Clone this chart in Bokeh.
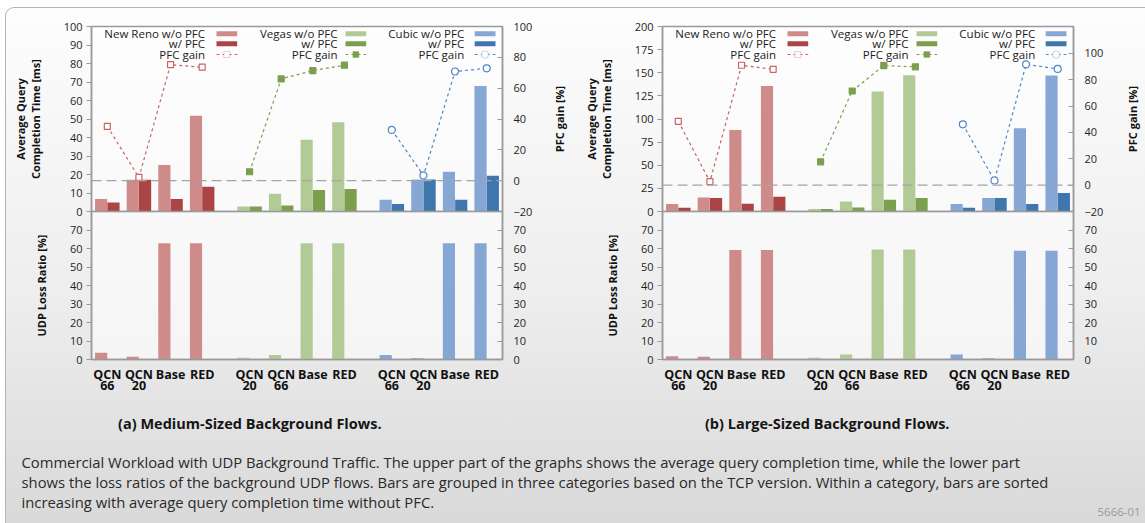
from bokeh.plotting import figure
from bokeh.models import (FactorRange, Range1d, LinearAxis, FixedTicker, Label,
                          BoxAnnotation, Arrow, Span, ColumnDataSource)
from bokeh.transform import dodge, factor_cmap
from bokeh.layouts import column, row
from bokeh.embed import file_html
from bokeh.resources import INLINE

FONT = "Open Sans"

# ---------------- data ----------------
groups = ["New Reno", "Vegas", "Cubic"]
configs = {
    "New Reno": ["QCN\n66", "QCN\n20", "Base", "RED"],
    "Vegas":    ["QCN\n20", "QCN\n66", "Base", "RED"],
    "Cubic":    ["QCN\n66", "QCN\n20", "Base", "RED"],
}

# (a) Medium-sized background flows
qct_wo_a = {"New Reno": [6.7, 17.2, 25.1, 51.8], "Vegas": [2.7, 9.6, 38.8, 48.2], "Cubic": [6.3, 17.3, 21.5, 67.9]}
qct_w_a  = {"New Reno": [4.9, 17.2, 6.7, 13.4],  "Vegas": [2.7, 3.3, 11.6, 12.1], "Cubic": [4.0, 17.3, 6.3, 19.3]}
gain_a   = {"New Reno": [35.2, 2.1, 75.3, 73.6], "Vegas": [5.8, 66.0, 71.4, 74.9], "Cubic": [32.9, 3.4, 70.8, 72.9]}
loss_a   = {"New Reno": [3.6, 1.5, 62.8, 62.8],  "Vegas": [0.9, 2.5, 62.8, 62.8],  "Cubic": [2.5, 0.7, 62.8, 62.8]}

# (b) Large-sized background flows
qct_wo_b = {"New Reno": [8.0, 15.2, 88.1, 135.8], "Vegas": [2.6, 10.8, 129.6, 147.3], "Cubic": [8.0, 14.5, 89.9, 146.9]}
qct_w_b  = {"New Reno": [4.0, 14.5, 8.3, 15.9],   "Vegas": [2.6, 4.3, 12.7, 14.5],    "Cubic": [4.0, 14.5, 8.0, 19.9]}
gain_b   = {"New Reno": [48.4, 2.6, 90.9, 87.8],  "Vegas": [17.7, 71.4, 90.7, 89.7],  "Cubic": [46.1, 3.5, 91.6, 88.1]}
loss_b   = {"New Reno": [1.8, 1.5, 59.2, 59.2],   "Vegas": [0.9, 2.7, 59.5, 59.5],    "Cubic": [2.7, 0.7, 58.8, 58.8]}

qct_ticks_a = list(range(0, 101, 10))
qct_ticks_b = list(range(0, 201, 25))
gain_ticks = [-20, 0, 20, 40, 60, 80, 100]
loss_ticks = list(range(0, 71, 10))

gain_title = "PFC gain [%]"
captions = ["(a) Medium-Sized Background Flows.", "(b) Large-Sized Background Flows."]
paragraph = [
    "Commercial Workload with UDP Background Traffic. The upper part of the graphs shows the average query completion time, while the lower part",
    "shows the loss ratios of the background UDP flows. Bars are grouped in three categories based on the TCP version. Within a category, bars are sorted",
    "increasing with average query completion time without PFC.",
]

# ---------------- styles ----------------
light = ["#cf8a8a", "#b2cb96", "#86a6d4"]
dark = ["#ab4545", "#7b9f4d", "#3f76ae"]
gain_col = ["#c96262", "#7b9f4d", "#4f86c6"]
gain_marker = ["square", "square", "circle"]
gain_fill = ["white", "#7b9f4d", "white"]
AX = "#9a9a9a"
FW, FH_TOP, FH_BOT = 411, 185, 148
RB = 36


def style_axis(ax, side):
    ax.axis_line_color = AX
    ax.axis_line_width = 1.5
    ax.major_tick_line_color = AX
    ax.major_tick_line_width = 1.2
    ax.minor_tick_line_color = None
    ax.major_label_text_font = FONT
    ax.major_label_text_font_size = "11px"
    ax.major_label_text_color = "#1e1e1e"
    ax.axis_label_text_font = FONT
    ax.axis_label_text_font_style = "bold"
    ax.axis_label_text_font_size = "11px"
    ax.axis_label_text_color = "#111111"
    ax.axis_label_text_line_height = 1.0
    if side == "left":
        ax.major_tick_out = 5
        ax.major_tick_in = 0
        ax.major_label_standoff = 4
        ax.axis_label_standoff = 18
    else:
        ax.major_tick_out = 0
        ax.major_tick_in = 5
        ax.major_label_standoff = 11


def label_only_axis(text, standoff):
    # an axis that carries only its title (for the neighbouring plot's right-hand axis)
    ax = LinearAxis(ticker=FixedTicker(ticks=[]), axis_label=text)
    style_axis(ax, "left")
    ax.axis_line_color = None
    ax.major_tick_line_color = None
    ax.major_tick_out = 0
    ax.major_label_standoff = 0
    ax.axis_label_standoff = standoff
    return ax


def base_fig(xr, yr, fh, lb, rb, top_b, bot_b, x_axis, **kw):
    p = figure(x_range=xr, y_range=yr, frame_width=FW, frame_height=fh,
               min_border_left=lb, min_border_right=rb,
               min_border_top=top_b, min_border_bottom=bot_b,
               x_axis_location=("below" if x_axis else None),
               toolbar_location=None, output_backend="svg",
               background_fill_color="white", background_fill_alpha=0.55,
               border_fill_alpha=0, outline_line_color=AX, outline_line_width=1.5, **kw)
    p.xgrid.visible = False
    p.ygrid.visible = False
    return p


def make_panel(wo, w, gain, loss, qct_range, qct_ticks, gain_range, lb, prev_gain_label):
    factors = [(g, c) for g in groups for c in configs[g]]
    xr = FactorRange(factors=factors, group_padding=0.5, factor_padding=0.0)
    src = ColumnDataSource(dict(
        x=factors,
        wo=[v for g in groups for v in wo[g]],
        w=[v for g in groups for v in w[g]],
        loss=[v for g in groups for v in loss[g]],
    ))

    # ---- upper: query completion time + PFC gain ----
    top = base_fig(xr, Range1d(*qct_range), FH_TOP, lb, RB, 18, 10, False)
    top.vbar(x=dodge("x", -0.195, range=xr), top="wo", width=0.385, source=src,
             fill_color=factor_cmap("x", light, groups, end=1), line_color=None)
    top.vbar(x=dodge("x", 0.195, range=xr), top="w", width=0.385, source=src,
             fill_color=factor_cmap("x", dark, groups, end=1), line_color=None)
    top.yaxis.ticker = FixedTicker(ticks=qct_ticks)
    top.yaxis.axis_label = "Average Query\nCompletion Time [ms]"
    style_axis(top.yaxis[0], "left")
    if prev_gain_label:
        top.add_layout(label_only_axis(gain_title, 14), "left")

    top.extra_y_ranges = {"gain": Range1d(*gain_range)}
    rax = LinearAxis(y_range_name="gain", ticker=FixedTicker(ticks=gain_ticks))
    style_axis(rax, "right")
    top.add_layout(rax, "right")
    top.add_layout(Span(location=0, dimension="width", y_range_name="gain",
                        line_color="#a5a5a5", line_dash="10 5", line_width=1.2))

    for i, g in enumerate(groups):
        gs = ColumnDataSource(dict(x=[(g, c) for c in configs[g]], gain=gain[g]))
        top.line("x", "gain", source=gs, y_range_name="gain", line_color=gain_col[i],
                 line_dash="3 3", line_width=1.2)
        top.scatter("x", "gain", source=gs, y_range_name="gain", marker=gain_marker[i],
                    size=(6 if gain_marker[i] == "square" else 7), line_color=gain_col[i],
                    fill_color=gain_fill[i], line_width=1.2)

    # legends (text then sample, three per panel)
    leg_pos = [(113.5, 125.0, 145.7), (246.0, 254.0, 274.7), (372.7, 383.2, 404.0)]
    rows_y = [177.7, 167.7, 157.0]
    for i, g in enumerate(groups):
        tx, s0, s1 = leg_pos[i]
        for t, yy in zip([g + " w/o PFC", "w/ PFC", "PFC gain"], rows_y):
            top.add_layout(Label(x=tx, y=yy, x_units="screen", y_units="screen", text=t,
                                 text_align="right", text_baseline="middle", text_font=FONT,
                                 text_font_size="11.5px", text_color="#222222"))
        for col, yy in ((light[i], rows_y[0]), (dark[i], rows_y[1])):
            top.add_layout(BoxAnnotation(left=s0, right=s1, bottom=yy - 2.5, top=yy + 2.5,
                                         left_units="screen", right_units="screen",
                                         top_units="screen", bottom_units="screen",
                                         fill_color=col, fill_alpha=1, line_color=None))
        top.add_layout(Arrow(x_start=s0, y_start=rows_y[2], x_end=s1, y_end=rows_y[2],
                             start_units="screen", end_units="screen", end=None,
                             line_color=gain_col[i], line_dash="3 3", line_width=1.2))
        mid = (s0 + s1) / 2
        r = 3 if gain_marker[i] == "square" else 3.5
        top.add_layout(BoxAnnotation(left=mid - r, right=mid + r, bottom=rows_y[2] - r, top=rows_y[2] + r,
                                     left_units="screen", right_units="screen",
                                     top_units="screen", bottom_units="screen",
                                     fill_color=gain_fill[i], fill_alpha=1, line_color=gain_col[i],
                                     line_width=1.2, border_radius=(4 if gain_marker[i] == "circle" else 0)))

    # ---- lower: UDP loss ratio ----
    bot = base_fig(xr, Range1d(0, 80), FH_BOT, lb, RB, 10, 52, True, margin=(-20, 0, 0, 0))
    bot.vbar(x=dodge("x", -0.195, range=xr), top="loss", width=0.385, source=src,
             fill_color=factor_cmap("x", light, groups, end=1), line_color=None)
    bot.yaxis.ticker = FixedTicker(ticks=loss_ticks)
    bot.yaxis.axis_label = "UDP Loss Ratio [%]"
    style_axis(bot.yaxis[0], "left")
    rax2 = LinearAxis(ticker=FixedTicker(ticks=loss_ticks))
    style_axis(rax2, "right")
    bot.add_layout(rax2, "right")
    xa = bot.xaxis[0]
    xa.axis_line_color = AX
    xa.axis_line_width = 1.5
    xa.major_tick_line_color = None
    xa.minor_tick_line_color = None
    xa.separator_line_color = None
    xa.major_label_text_font = FONT
    xa.major_label_text_font_style = "bold"
    xa.major_label_text_font_size = "12.5px"
    xa.major_label_text_color = "#111111"
    xa.major_label_text_line_height = 0.66
    xa.major_label_standoff = 0
    xa.group_text_font_size = "0px"
    xa.group_text_color = None
    return column(top, bot, spacing=0)


panel_a = make_panel(qct_wo_a, qct_w_a, gain_a, loss_a, (0, 100), qct_ticks_a, (-20, 100), 85, False)
panel_b = make_panel(qct_wo_b, qct_w_b, gain_b, loss_b, (0, 200), qct_ticks_b, (-20, 120.3), 124, True)

# strip at the right edge that carries the title of panel (b)'s right-hand axis
edge = figure(x_range=Range1d(0, 1), y_range=Range1d(0, 1), frame_width=1, frame_height=FH_TOP,
              min_border_left=35, min_border_right=0, min_border_top=18, min_border_bottom=10,
              x_axis_location=None, y_axis_location=None, toolbar_location=None,
              output_backend="svg", background_fill_alpha=0, border_fill_alpha=0,
              outline_line_color=None)
edge.grid.visible = False
edge.add_layout(label_only_axis(gain_title, 5), "left")

# ---------------- caption area ----------------
TW, TH = 1139, 112
txt = figure(width=TW, height=TH, x_range=Range1d(0, TW), y_range=Range1d(0, TH),
             min_border=0, x_axis_type=None, y_axis_type=None, toolbar_location=None,
             output_backend="svg", outline_line_color=None,
             background_fill_alpha=0, border_fill_alpha=0)
txt.grid.visible = False
for cx, cap in zip([243.3, 820.7], captions):
    txt.add_layout(Label(x=cx, y=99.7, x_units="screen", y_units="screen", text=cap,
                         text_align="center", text_baseline="middle", text_font=FONT,
                         text_font_style="bold", text_font_size="14.5px", text_color="#151515"))
for yy, line in zip([61.7, 41.7, 21.7], paragraph):
    txt.add_layout(Label(x=15, y=yy, x_units="screen", y_units="screen", text=line,
                         text_align="left", text_baseline="middle", text_font=FONT,
                         text_font_size="14.8px", text_color="#2a2a2a"))
txt.add_layout(Label(x=1091, y=12, x_units="screen", y_units="screen", text="5666-01",
                     text_align="left", text_baseline="middle", text_font=FONT,
                     text_font_size="11.5px", text_color="#9a9a9a"))

layout = column(row(panel_a, panel_b, edge, spacing=0), txt, spacing=0, margin=(7, 0, 0, 5),
                styles={"background": "linear-gradient(to bottom, #fdfdfd 0%, #eeeeee 55%, #d9d9d9 100%)",
                        "border-top": "1px solid #b4b4b4", "border-left": "1px solid #b4b4b4",
                        "border-top-left-radius": "9px"})

open("out.html", "w").write(file_html(layout, INLINE))
